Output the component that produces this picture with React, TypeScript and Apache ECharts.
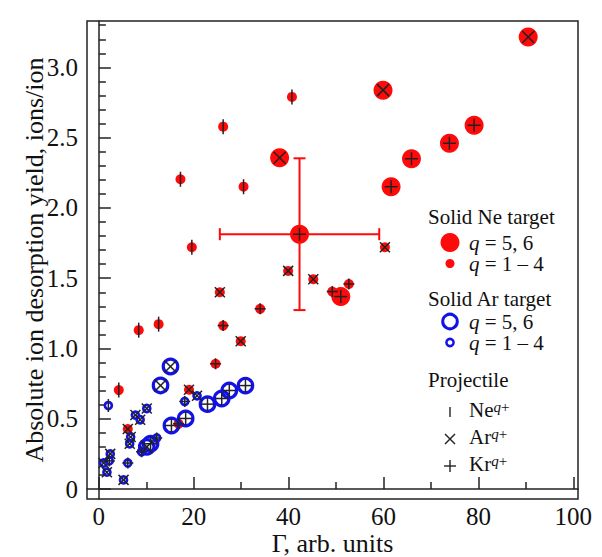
import { useEffect, useRef } from "react";
import * as echarts from "echarts";

// ---- Solid Ne target (filled red) ----
// q = 5, 6
const neHighAr = [[90.5, 3.216], [59.9, 2.838], [38.1, 2.357]];
const neHighKr = [[79.1, 2.588], [73.9, 2.46], [65.9, 2.35], [61.6, 2.151], [42.3, 1.813], [51.0, 1.369]];
// q = 1 - 4
const neLowNe = [[40.7, 2.79], [26.2, 2.578], [30.5, 2.151], [17.2, 2.204], [19.6, 1.72], [8.4, 1.13], [12.6, 1.173], [4.2, 0.704]];
const neLowAr = [[25.5, 1.4], [29.9, 1.052], [39.9, 1.552], [45.2, 1.493], [60.3, 1.72], [19.0, 0.706], [6.1, 0.427]];
const neLowKr = [[26.2, 1.163], [34.0, 1.282], [24.6, 0.891], [49.2, 1.405], [52.7, 1.459], [16.8, 0.464]];

// ---- Solid Ar target (open blue) ----
// q = 5, 6
const arHighAr = [[15.1, 0.872], [13.0, 0.737], [10.1, 0.3]];
const arHighKr = [[10.9, 0.322], [15.3, 0.452], [18.3, 0.502], [22.9, 0.604], [25.9, 0.644], [27.5, 0.701], [30.9, 0.736]];
// q = 1 - 4
const arLowNe = [[2.0, 0.594]];
const arLowAr = [[20.7, 0.663], [10.1, 0.573], [7.7, 0.526], [8.7, 0.493], [6.7, 0.37], [6.5, 0.322], [1.0, 0.185], [2.4, 0.25], [1.7, 0.12], [5.2, 0.065]];
const arLowKr = [[18.1, 0.623], [12.2, 0.363], [9.0, 0.265], [6.1, 0.185], [2.2, 0.2]];

// Representative uncertainty: [x, y, ±x, ±y]
const errorBars = [[42.3, 1.813, 16.8, 0.54]];

// Axis ticks
const xMajorTicks = [0, 20, 40, 60, 80, 100];
const xMinorTicks = [10, 30, 50, 70, 90];
const yMajorTicks = [0, 0.5, 1, 1.5, 2, 2.5, 3];
const yTickLabels = ["0", "0.5", "1.0", "1.5", "2.0", "2.5", "3.0"];
const yMinorTicks = [
  0.1, 0.2, 0.3, 0.4, 0.6, 0.7, 0.8, 0.9, 1.1, 1.2, 1.3, 1.4, 1.6, 1.7, 1.8, 1.9,
  2.1, 2.2, 2.3, 2.4, 2.6, 2.7, 2.8, 2.9, 3.1, 3.2, 3.3,
];

// Charge-state groups shown in the legend
const chargeLabels = [" = 5, 6", " = 1 \u2013 4"];

const RED = "#ff0a0a";
const BLUE = "#1212e6";
const INK = "#222222";
const TEXT = "#111111";
const SERIF = "'Liberation Serif', 'Times New Roman', serif";

const X_MIN = -2.5;
const X_MAX = 101;
const Y_MIN = -0.071;
const Y_MAX = 3.33;

type Kind = "ne" | "ar" | "kr";

// Projectile glyph drawn over each point: | (Ne), x (Ar), + (Kr)
function markerSeries(data: number[][], kind: Kind, half: number) {
  return {
    type: "custom",
    data,
    encode: { x: 0, y: 1 },
    z: 5,
    silent: true,
    renderItem: (_params: any, api: any) => {
      const [cx, cy] = api.coord([api.value(0), api.value(1)]);
      const style = { stroke: INK, lineWidth: 1.5 };
      const seg = (x1: number, y1: number, x2: number, y2: number) => ({
        type: "line",
        shape: { x1, y1, x2, y2 },
        style,
      });
      let children: any[];
      if (kind === "ne") {
        children = [seg(cx, cy - half, cx, cy + half)];
      } else if (kind === "kr") {
        children = [seg(cx - half, cy, cx + half, cy), seg(cx, cy - half, cx, cy + half)];
      } else {
        children = [seg(cx - half, cy - half, cx + half, cy + half), seg(cx - half, cy + half, cx + half, cy - half)];
      }
      return { type: "group", children };
    },
  };
}

function filledSeries(data: number[][], size: number) {
  return {
    type: "scatter",
    data,
    symbol: "circle",
    symbolSize: size,
    z: 2,
    itemStyle: { color: RED, opacity: 1 },
  };
}

function openSeries(data: number[][], size: number, width: number) {
  return {
    type: "scatter",
    data,
    symbol: "circle",
    symbolSize: size,
    z: 3,
    itemStyle: { color: "rgba(0,0,0,0)", borderColor: BLUE, borderWidth: width, opacity: 1 },
  };
}

const errorBarSeries = {
  type: "custom",
  data: errorBars,
  encode: { x: 0, y: 1 },
  z: 1,
  silent: true,
  renderItem: (_params: any, api: any) => {
    const x = api.value(0);
    const y = api.value(1);
    const dx = api.value(2);
    const dy = api.value(3);
    const l = api.coord([x - dx, y]);
    const r = api.coord([x + dx, y]);
    const t = api.coord([x, y + dy]);
    const b = api.coord([x, y - dy]);
    const cap = 6;
    const style = { stroke: RED, lineWidth: 2 };
    return {
      type: "group",
      children: [
        { type: "line", shape: { x1: l[0], y1: l[1], x2: r[0], y2: r[1] }, style },
        { type: "line", shape: { x1: t[0], y1: t[1], x2: b[0], y2: b[1] }, style },
        { type: "line", shape: { x1: l[0], y1: l[1] - cap, x2: l[0], y2: l[1] + cap }, style },
        { type: "line", shape: { x1: r[0], y1: r[1] - cap, x2: r[0], y2: r[1] + cap }, style },
        { type: "line", shape: { x1: t[0] - cap, y1: t[1], x2: t[0] + cap, y2: t[1] }, style },
        { type: "line", shape: { x1: b[0] - cap, y1: b[1], x2: b[0] + cap, y2: b[1] }, style },
      ],
    };
  },
};

// Legend block (drawn as graphics at the right of the plot)
const LEG_X = 428;
const SYM_X = 450;
const TXT_X = 469;
const LEG_FONT = 21;

const richBase = { fontFamily: SERIF, fontSize: LEG_FONT, fill: TEXT };

function legText(text: string, x: number, y: number) {
  return {
    type: "text",
    x,
    y,
    z: 10,
    style: {
      text: "{n|" + text + "}",
      fill: TEXT,
      fontFamily: SERIF,
      fontSize: LEG_FONT,
      align: "left",
      verticalAlign: "middle",
      rich: { n: { ...richBase, lineHeight: 22 } },
    },
  };
}

// Two stacked "q = ..." lines as one text block, centred at y
function legCharges(y: number) {
  return {
    type: "text",
    x: TXT_X,
    y,
    z: 10,
    style: {
      text: chargeLabels.map((c) => "{i|q}{n|" + c + "}").join("\n"),
      fill: TEXT,
      fontFamily: SERIF,
      fontSize: LEG_FONT,
      align: "left",
      verticalAlign: "middle",
      rich: {
        i: { ...richBase, fontStyle: "italic", lineHeight: 21 },
        n: { ...richBase, lineHeight: 21 },
      },
    },
  };
}

// Ion symbol with a raised "q+" charge superscript
function ionLabel(el: string, y: number) {
  return {
    type: "text",
    x: TXT_X,
    y,
    z: 10,
    style: {
      text: "{b|" + el + "}{s|q}{p|+}",
      fill: TEXT,
      fontFamily: SERIF,
      fontSize: LEG_FONT,
      align: "left",
      verticalAlign: "middle",
      rich: {
        b: { ...richBase, lineHeight: 21, padding: [4, 0, 0, 0], verticalAlign: "bottom" },
        s: { ...richBase, fontSize: 15, fontStyle: "italic", lineHeight: 15, verticalAlign: "top" },
        p: { ...richBase, fontSize: 15, lineHeight: 15, verticalAlign: "top" },
      },
    },
  };
}

function legGlyph(kind: Kind, cx: number, cy: number, half: number) {
  const style = { stroke: INK, lineWidth: 1.4 };
  const seg = (x1: number, y1: number, x2: number, y2: number) => ({
    type: "line",
    z: 10,
    shape: { x1, y1, x2, y2 },
    style,
  });
  if (kind === "ne") return [seg(cx, cy - half, cx, cy + half)];
  if (kind === "kr") return [seg(cx - half, cy, cx + half, cy), seg(cx, cy - half, cx, cy + half)];
  return [seg(cx - half, cy - half, cx + half, cy + half), seg(cx - half, cy + half, cx + half, cy - half)];
}

const legendGraphics = [
  legText("Solid Ne target", LEG_X, 217),
  { type: "circle", z: 10, shape: { cx: SYM_X, cy: 242.5, r: 9.5 }, style: { fill: RED } },
  { type: "circle", z: 10, shape: { cx: SYM_X, cy: 263.5, r: 4.5 }, style: { fill: RED } },
  legCharges(253),
  legText("Solid Ar target", LEG_X, 299),
  { type: "circle", z: 10, shape: { cx: SYM_X, cy: 321.5, r: 7.3 }, style: { fill: "none", stroke: BLUE, lineWidth: 3 } },
  { type: "circle", z: 10, shape: { cx: SYM_X, cy: 342.5, r: 3.6 }, style: { fill: "none", stroke: BLUE, lineWidth: 2.5 } },
  legCharges(332),
  legText("Projectile", LEG_X, 380),
  ...legGlyph("ne", SYM_X, 412, 5),
  ionLabel("Ne", 410),
  ...legGlyph("ar", SYM_X, 439, 5),
  ionLabel("Ar", 437),
  ...legGlyph("kr", SYM_X, 466, 6),
  ionLabel("Kr", 464),
];

export default function App() {
  const ref = useRef<HTMLDivElement>(null);

  useEffect(() => {
    document.body.style.margin = "0";
    if (!ref.current) return;
    const chart = echarts.init(ref.current, null, { renderer: "svg" });

    const axisLineStyle = { color: INK, width: 1.5 };
    const labelStyle = { fontFamily: SERIF, fontSize: 25, lineHeight: 25, color: TEXT };

    chart.setOption({
      animation: false,
      backgroundColor: "#ffffff",
      textStyle: { fontFamily: SERIF, color: TEXT },
      grid: {
        left: 87,
        right: 24,
        top: 21,
        bottom: 58,
        show: true,
        containLabel: false,
        outerBoundsMode: "none",
        borderColor: INK,
        borderWidth: 1.5,
        backgroundColor: "rgba(0,0,0,0)",
      },
      xAxis: [
        {
          type: "value",
          min: X_MIN,
          max: X_MAX,
          position: "bottom",
          axisLine: { show: true, lineStyle: axisLineStyle },
          axisTick: { show: true, inside: true, length: 12, customValues: xMajorTicks, lineStyle: axisLineStyle },
          axisLabel: { show: true, customValues: xMajorTicks, margin: 5, ...labelStyle },
          splitLine: { show: false },
          name: "\u0393, arb. units",
          nameLocation: "middle",
          nameGap: 32,
          nameMoveOverlap: false,
          nameTextStyle: { fontFamily: SERIF, fontSize: 26, lineHeight: 25, color: TEXT },
        },
        {
          type: "value",
          min: X_MIN,
          max: X_MAX,
          position: "bottom",
          axisLine: { show: false },
          axisTick: { show: true, inside: true, length: 7, customValues: xMinorTicks, lineStyle: axisLineStyle },
          axisLabel: { show: false },
          splitLine: { show: false },
        },
      ],
      yAxis: [
        {
          type: "value",
          min: Y_MIN,
          max: Y_MAX,
          position: "left",
          axisLine: { show: true, lineStyle: axisLineStyle },
          axisTick: { show: true, inside: true, length: 12, customValues: yMajorTicks, lineStyle: axisLineStyle },
          axisLabel: {
            show: true,
            customValues: yMajorTicks,
            margin: 9,
            formatter: (v: number) => yTickLabels[yMajorTicks.indexOf(v)] ?? String(v),
            ...labelStyle,
          },
          splitLine: { show: false },
          name: "Absolute ion desorption yield, ions/ion",
          nameLocation: "middle",
          nameRotate: 90,
          nameGap: 40,
          nameMoveOverlap: false,
          nameTextStyle: { fontFamily: SERIF, fontSize: 26, color: TEXT },
        },
        {
          type: "value",
          min: Y_MIN,
          max: Y_MAX,
          position: "left",
          axisLine: { show: false },
          axisTick: { show: true, inside: true, length: 7, customValues: yMinorTicks, lineStyle: axisLineStyle },
          axisLabel: { show: false },
          splitLine: { show: false },
        },
      ],
      series: [
        errorBarSeries,
        filledSeries(neHighAr, 19),
        filledSeries(neHighKr, 19),
        filledSeries(neLowNe, 10),
        filledSeries(neLowAr, 10),
        filledSeries(neLowKr, 10),
        openSeries(arHighAr, 14.5, 3.2),
        openSeries(arHighKr, 14.5, 3.2),
        openSeries(arLowNe, 7, 2.7),
        openSeries(arLowAr, 7, 2.7),
        openSeries(arLowKr, 7, 2.7),
        markerSeries(neHighAr, "ar", 6),
        markerSeries(neHighKr, "kr", 6.5),
        markerSeries(neLowNe, "ne", 7.5),
        markerSeries(neLowAr, "ar", 5),
        markerSeries(neLowKr, "kr", 5.5),
        markerSeries(arHighAr, "ar", 6),
        markerSeries(arHighKr, "kr", 6.5),
        markerSeries(arLowNe, "ne", 6.5),
        markerSeries(arLowAr, "ar", 5),
        markerSeries(arLowKr, "kr", 5.5),
      ],
      graphic: legendGraphics,
    });

    return () => chart.dispose();
  }, []);

  return <div ref={ref} style={{ width: 602, height: 557 }} />;
}
